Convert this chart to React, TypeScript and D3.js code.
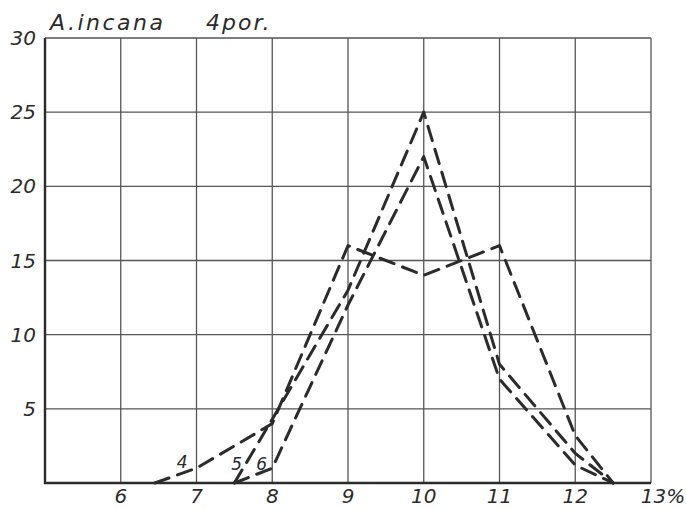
import React from "react";
import * as d3 from "d3";

const xTicks = [6, 7, 8, 9, 10, 11, 12, 13];
const xTickLabels = ["6", "7", "8", "9", "10", "11", "12", "13%"];
const yTicks = [5, 10, 15, 20, 25, 30];

const series4X = [6.45, 7, 8, 9, 10, 11, 12, 12.5];
const series4Y = [0, 1, 4, 16, 14, 16, 3.2, 0];
const series5X = [7.5, 8, 9, 10, 11, 12, 12.5];
const series5Y = [0, 4.3, 13, 25, 8, 2, 0];
const series6X = [7.5, 8, 9, 10, 11, 12, 12.5];
const series6Y = [0, 1, 12, 22, 7, 1.2, 0];

const seriesNames = ["4", "5", "6"];
const seriesLabelPos = [
  [6.81, 1.0],
  [7.53, 0.85],
  [7.86, 0.85],
];

const title = "A.incana";
const subtitle = "4por.";

export default function App() {
  React.useEffect(() => {
    document.body.style.margin = "0";
  }, []);
  const W = 686;
  const H = 509;
  const x = d3.scaleLinear().domain([5, 13]).range([45, 651]);
  const y = d3.scaleLinear().domain([0, 30]).range([483, 38]);
  const line = d3
    .line<[number, number]>()
    .x((d) => x(d[0]))
    .y((d) => y(d[1]));
  const series = [
    series4X.map((v, i) => [v, series4Y[i]] as [number, number]),
    series5X.map((v, i) => [v, series5Y[i]] as [number, number]),
    series6X.map((v, i) => [v, series6Y[i]] as [number, number]),
  ];
  const font = "'DejaVu Sans', sans-serif";
  const ink = "#2b2b2b";
  return (
    <svg width={W} height={H} style={{ display: "block", background: "#fff" }}>
      <rect x={0} y={0} width={W} height={H} fill="#fff" />
      {/* grid */}
      {yTicks.map((t) => (
        <line key={"h" + t} x1={x(5)} x2={x(13)} y1={y(t)} y2={y(t)} stroke="#555" strokeWidth={1.3} />
      ))}
      {xTicks.map((t) => (
        <line key={"v" + t} x1={x(t)} x2={x(t)} y1={y(0)} y2={y(30)} stroke="#555" strokeWidth={1.3} />
      ))}
      {/* axes */}
      <line x1={x(5)} x2={x(5)} y1={y(0) + 1} y2={y(30)} stroke={ink} strokeWidth={2.4} />
      <line x1={x(5) - 1} x2={x(13)} y1={y(0)} y2={y(0)} stroke={ink} strokeWidth={2.4} />
      {/* series */}
      {series.map((s, i) => (
        <path
          key={"s" + i}
          d={line(s) || ""}
          fill="none"
          stroke={ink}
          strokeWidth={3}
          strokeDasharray="15 9"
          strokeLinecap="round"
          strokeLinejoin="round"
        />
      ))}
      {/* series labels */}
      {seriesNames.map((n, i) => (
        <text
          key={"l" + n}
          x={x(seriesLabelPos[i][0])}
          y={y(seriesLabelPos[i][1])}
          fontFamily={font}
          fontStyle="italic"
          fontSize={17}
          fill={ink}
          textAnchor="middle"
        >
          {n}
        </text>
      ))}
      {/* y tick labels */}
      {yTicks.map((t) => (
        <text
          key={"yt" + t}
          x={36}
          y={y(t)}
          dy="0.35em"
          textAnchor="end"
          fontFamily={font}
          fontStyle="italic"
          fontSize={20}
          fill={ink}
        >
          {t}
        </text>
      ))}
      {/* x tick labels */}
      {xTicks.map((t, i) => (
        <text
          key={"xt" + t}
          x={x(t) + (i === xTicks.length - 1 ? 12 : 0)}
          y={503}
          textAnchor="middle"
          fontFamily={font}
          fontStyle="italic"
          fontSize={20}
          fill={ink}
        >
          {xTickLabels[i]}
        </text>
      ))}
      {/* title */}
      <text x={50} y={30} fontFamily={font} fontStyle="italic" fontSize={22} letterSpacing={2.5} fill={ink}>
        {title}
      </text>
      <text x={206} y={30} fontFamily={font} fontStyle="italic" fontSize={22} letterSpacing={2} fill={ink}>
        {subtitle}
      </text>
    </svg>
  );
}
